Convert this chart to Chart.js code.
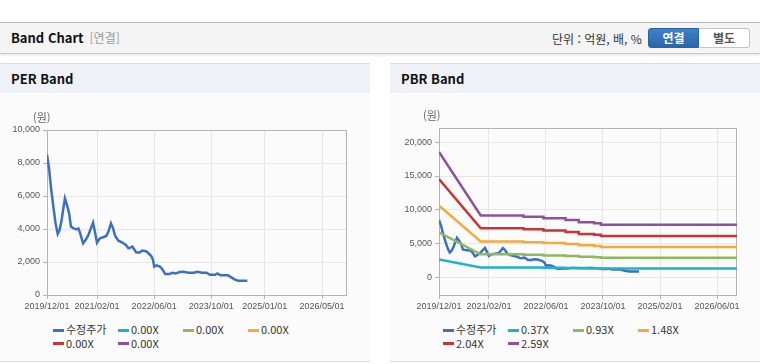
<!DOCTYPE html>
<html lang="ko">
<head>
<meta charset="utf-8">
<title>Band Chart</title>
<script src="https://cdn.jsdelivr.net/npm/chart.js@4.4.1/dist/chart.umd.min.js"></script>
<style>
  body { margin:0; width:760px; height:364px; overflow:hidden; background:#fff; position:relative;
         font-family:"Noto Sans CJK KR","Noto Sans",sans-serif; }
  .topbar { position:absolute; left:0; top:22px; width:760px; height:30px; background:#f4f4f4;
            border-top:1px solid #bababa; border-bottom:1px solid #c6c6c6; box-shadow:0 1px 3px rgba(0,0,0,0.12); }
  .topbar .ttl { position:absolute; left:11px; top:6px; font-size:13px; font-weight:bold; color:#111; line-height:18px; }
  .topbar .ttl span { font-weight:normal; color:#999; font-size:12px; margin-left:6px; }
  .unit { position:absolute; left:552px; top:8px; font-size:12px; color:#333; line-height:16px; }
  .btns { position:absolute; left:648px; top:5px; display:flex; }
  .btn { width:51px; height:20px; box-sizing:border-box; font-size:12px; font-weight:bold; text-align:center; line-height:18px; }
  .btn.on { background:linear-gradient(#3e80c8,#2966ab); color:#fff; border:1px solid #2a62a3; border-radius:3px 0 0 3px; }
  .btn.off { background:#fff; color:#555; border:1px solid #c4c4c4; border-left:none; border-radius:0 3px 3px 0; }
  .panel { position:absolute; top:63px; width:370px; height:297px; background:#fbfbfb;
           border-top:1px solid #dcdcdc; border-bottom:1px solid #dcdcdc; }
  .panel .head { height:29px; background:#eef2f7; font-size:13px; font-weight:bold; color:#111; line-height:29px; padding-left:11px; }
  .panel canvas { position:absolute; left:0; top:29px; }
  .legend { position:absolute; left:53px; top:259px; display:grid; grid-template-columns:repeat(4, 65px); }
  .legend div { height:13.5px; line-height:13.5px; font-size:11px; color:#333; white-space:nowrap; }
  .legend i { display:inline-block; width:11px; height:3px; vertical-align:middle; margin-right:2px; position:relative; top:-1px; }
</style>
</head>
<body>
<div class="topbar">
  <div class="ttl">Band Chart<span>[연결]</span></div>
  <div class="unit">단위 : 억원, 배, %</div>
  <div class="btns"><div class="btn on">연결</div><div class="btn off">별도</div></div>
</div>

<div class="panel" style="left:0">
  <div class="head">PER Band</div>
  <canvas id="perChart" width="370" height="227"></canvas>
  <div class="legend" id="perLegend"></div>
</div>

<div class="panel" style="left:390px">
  <div class="head">PBR Band</div>
  <canvas id="pbrChart" width="370" height="227"></canvas>
  <div class="legend" id="pbrLegend"></div>
</div>

<script>
// 수정주가 (adjusted price)
const priceDates = ['2019-12-01','2019-12-18','2020-01-07','2020-01-28','2020-02-13','2020-03-01','2020-03-17','2020-04-04',
  '2020-04-16','2020-05-02','2020-05-19','2020-06-07','2020-06-22','2020-07-16','2020-08-07','2020-08-25','2020-09-10',
  '2020-10-04','2020-10-25','2020-11-19','2020-12-04','2020-12-28','2021-01-16','2021-02-01','2021-02-25','2021-03-22',
  '2021-04-19','2021-05-07','2021-05-28','2021-06-16','2021-07-04','2021-08-01','2021-09-04','2021-10-04','2021-10-25',
  '2021-11-10','2021-11-28','2021-12-13','2022-01-01','2022-01-28','2022-02-22','2022-03-22','2022-04-13','2022-05-07',
  '2022-05-22','2022-06-01','2022-06-22','2022-07-19','2022-08-10','2022-09-04','2022-10-07','2022-11-04','2022-12-01',
  '2023-01-07','2023-02-10','2023-03-19','2023-05-04','2023-06-04','2023-07-13','2023-08-22','2023-09-19','2023-11-04',
  '2023-11-22','2023-12-19','2024-02-22','2024-03-19','2024-04-16','2024-05-16','2024-08-04'];
const priceValues = [8500,7680,6360,5150,4340,3700,3940,4545,5150,5860,5450,4950,4140,4040,3980,4040,3740,3130,3330,3640,
  3940,4380,3740,3170,3430,3500,3580,3840,4340,4040,3580,3290,3170,3030,2830,2870,2930,2770,2570,2570,2690,2650,2530,
  2360,2120,1720,1800,1720,1560,1270,1270,1350,1310,1390,1410,1350,1350,1410,1350,1350,1230,1230,1310,1190,1190,1070,
  950,870,870];

// PBR band lines
const bandDates = ['2019-12-01','2020-11-22','2021-11-22','2021-11-22','2022-05-10','2022-05-10','2022-11-16','2022-11-16',
  '2023-03-07','2023-03-07','2023-07-16','2023-07-16','2023-09-13','2023-09-13','2026-11-19'];
const band037 = [2650,1480,1480,1460,1460,1440,1440,1410,1410,1380,1380,1350,1350,1330,1330];
const band093 = [6650,3420,3420,3350,3350,3260,3260,3170,3170,3060,3060,2990,2990,2910,2910];
const band148 = [10640,5330,5330,5220,5220,5080,5080,4930,4930,4760,4760,4640,4640,4500,4500];
const band204 = [14550,7260,7260,7120,7120,6930,6930,6720,6720,6430,6430,6300,6300,6130,6130];
const band259 = [18560,9150,9150,8980,8980,8740,8740,8490,8490,8150,8150,8000,8000,7800,7800];

const perSeriesNames = ['수정주가','0.00X','0.00X','0.00X','0.00X','0.00X'];
const pbrSeriesNames = ['수정주가','0.37X','0.93X','1.48X','2.04X','2.59X'];

const perXTicks = ['2019/12/01','2021/02/01','2022/06/01','2023/10/01','2025/01/01','2026/05/01'];
const pbrXTicks = ['2019/12/01','2021/02/01','2022/06/01','2023/10/01','2025/02/01','2026/06/01'];
const perYTicks = [0,2000,4000,6000,8000,10000];
const pbrYTicks = [0,5000,10000,15000,20000];

const colors = ['#3a72c0','#22b2c6','#8fb95e','#f2ac3c','#c93434','#8f519d'];

function toMonth(d) {
  const [y, m, day] = d.split(/[-\/]/).map(Number);
  return (y - 2019) * 12 + (m - 12) + (day - 1) / 30;
}
function pts(dates, values) {
  return dates.map((d, i) => ({ x: toMonth(d), y: values[i] }));
}

const tickFont = { family: '"Liberation Sans", Arial, sans-serif', size: 9 };

const framePlugin = {
  id: 'frame',
  beforeDatasetsDraw(chart) {
    const { ctx, chartArea: a } = chart;
    ctx.save();
    ctx.strokeStyle = '#b4b4b4';
    ctx.lineWidth = 1;
    ctx.strokeRect(Math.round(a.left) + 0.5, Math.round(a.top) + 0.5, Math.round(a.width) - 1, Math.round(a.height));
    ctx.restore();
  },
  afterDraw(chart) {
    const { ctx, chartArea: a } = chart;
    ctx.save();
    ctx.fillStyle = '#666';
    ctx.font = '11px "Noto Sans CJK KR"';
    ctx.textBaseline = 'middle';
    ctx.fillText('(원)', 33, a.top - 12);
    ctx.restore();
  }
};

function makeChart(id, legendId, names, series, xTicks, yTicks, yMin, yMax, xMax, leftW, topPad) {
  const datasets = names.map((n, i) => ({
    label: n,
    data: series[i],
    borderColor: colors[i],
    backgroundColor: colors[i],
    borderWidth: 2.5,
    pointRadius: 0,
    tension: 0,
    order: i === 0 ? 1 : 0
  }));
  const chart = new Chart(document.getElementById(id), {
    type: 'line',
    data: { datasets },
    plugins: [framePlugin],
    options: {
      responsive: false,
      animation: false,
      layout: { padding: { top: topPad, right: 23, left: 0, bottom: 0 } },
      plugins: { legend: { display: false }, tooltip: { enabled: false } },
      scales: {
        x: {
          type: 'linear', min: 0, max: xMax,
          afterBuildTicks: ax => { ax.ticks = xTicks.map(t => ({ value: toMonth(t) })); },
          afterFit: s => { s.height = 25; },
          ticks: { autoSkip: false, maxRotation: 0, padding: 2, color: '#555', font: tickFont,
                   callback: (v, i) => xTicks[i] },
          grid: { color: '#e6e6e6', tickColor: '#b4b4b4', tickLength: 4 },
          border: { display: false }
        },
        y: {
          min: yMin, max: yMax,
          afterBuildTicks: ax => { ax.ticks = yTicks.map(v => ({ value: v })); },
          afterFit: s => { s.width = leftW; },
          ticks: { padding: 3, color: '#555', font: tickFont,
                   callback: v => v.toLocaleString('en-US') },
          grid: { color: '#e6e6e6', tickColor: '#b4b4b4', tickLength: 4 },
          border: { display: false }
        }
      }
    }
  });
  const lg = document.getElementById(legendId);
  chart.data.datasets.forEach(ds => {
    const item = document.createElement('div');
    const sw = document.createElement('i');
    sw.style.background = ds.borderColor;
    item.appendChild(sw);
    item.appendChild(document.createTextNode(ds.label));
    lg.appendChild(item);
  });
  return chart;
}

const priceSeries = pts(priceDates, priceValues);

makeChart('perChart', 'perLegend', perSeriesNames,
  [priceSeries, [], [], [], [], []],
  perXTicks, perYTicks, 0, 10000, 84, 47, 37);

makeChart('pbrChart', 'pbrLegend', pbrSeriesNames,
  [priceSeries, pts(bandDates, band037), pts(bandDates, band093), pts(bandDates, band148),
   pts(bandDates, band204), pts(bandDates, band259)],
  pbrXTicks, pbrYTicks, -2600, 22100, 83.6, 49, 35);
</script>
</body>
</html>
